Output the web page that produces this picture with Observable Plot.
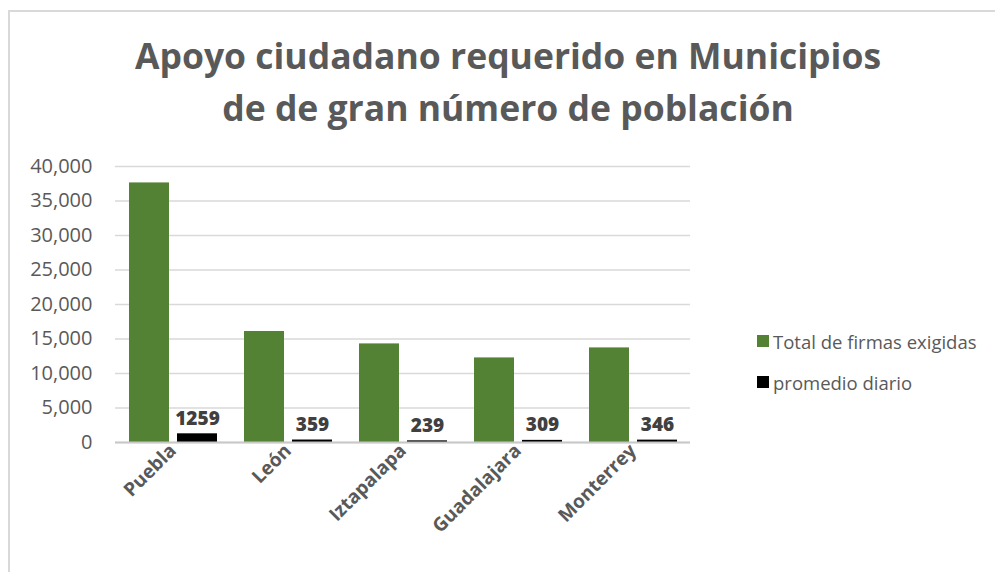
<!DOCTYPE html>
<html>
<head>
<meta charset="utf-8">
<script src="https://cdn.jsdelivr.net/npm/d3@7"></script>
<script src="https://cdn.jsdelivr.net/npm/@observablehq/plot@0.6"></script>
<style>
  html, body { margin: 0; padding: 0; background: #fff; }
  body { width: 995px; height: 572px; position: relative; overflow: hidden; font-family: "Open Sans", sans-serif; }
  #frame { position: absolute; left: 8px; top: 10px; right: -5px; bottom: -5px; border-top: 2px solid #d9d9d9; border-left: 2px solid #d9d9d9; }
  #title { position: absolute; left: 20px; width: 976px; top: 29px; text-align: center; font-weight: 700; font-size: 35.5px; line-height: 52px; color: #595959; }
  #chart { position: absolute; left: 0; top: 140px; }
  #legend { position: absolute; left: 757px; top: 327px; color: #595959; font-size: 18.5px; }
  .item { display: flex; align-items: center; height: 28px; margin-bottom: 13px; }
  .sw { width: 12px; height: 12px; margin-right: 4px; }
</style>
</head>
<body>
<div id="frame"></div>
<div id="title">Apoyo ciudadano requerido en Municipios<br>de de gran número de población</div>
<div id="chart"></div>
<div id="legend"></div>
<script>
const categories = ["Puebla", "León", "Iztapalapa", "Guadalajara", "Monterrey"];
const totalFirmas = [37620, 16090, 14290, 12260, 13710];
const promedioDiario = [1259, 359, 239, 309, 346];
const seriesNames = ["Total de firmas exigidas", "promedio diario"];
const seriesColors = ["#548235", "#000000"];
const yTicks = [0, 5000, 10000, 15000, 20000, 25000, 30000, 35000, 40000];

const rows = categories.flatMap((c, i) => [
  {cat: c, series: seriesNames[0], value: totalFirmas[i]},
  {cat: c, series: seriesNames[1], value: promedioDiario[i]}
]);

const chart = Plot.plot({
  width: 700,
  height: 432,
  marginTop: 26,
  marginBottom: 130,
  marginLeft: 115,
  marginRight: 10,
  style: {fontFamily: "'Open Sans', sans-serif", fontSize: "20px", color: "#595959", background: "transparent"},
  fx: {domain: categories, padding: 0, label: null, axis: null},
  x: {domain: seriesNames, paddingInner: 0.167, paddingOuter: 0.275, axis: null},
  y: {domain: [0, 40000], label: null},
  color: {domain: seriesNames, range: seriesColors},
  marks: [
    Plot.gridY(yTicks, {stroke: "#d9d9d9", strokeOpacity: 1, strokeWidth: 1.5}),
    Plot.axisY(yTicks, {tickSize: 0, tickPadding: 23, tickFormat: d3.format(","), label: null, fontSize: 20}),
    Plot.axisFx({anchor: "bottom", tickRotate: -45, tickSize: 0, tickPadding: 5, label: null, fontSize: 19, fontWeight: "bold"}),
    Plot.barY(rows, {fx: "cat", x: "series", y: "value", fill: "series"}),
    Plot.ruleY([0], {stroke: "#c8c8c8", strokeWidth: 2}),
    Plot.text(rows.filter(d => d.series === seriesNames[1]), {
      fx: "cat", x: "series", y: "value", text: d => String(d.value),
      dy: -9, lineAnchor: "bottom", fontSize: 19, fontWeight: 800, fill: "#404040"
    })
  ]
});
document.getElementById("chart").appendChild(chart);

const legend = document.getElementById("legend");
seriesNames.forEach((name, i) => {
  const item = document.createElement("div");
  item.className = "item";
  const sw = document.createElement("span");
  sw.className = "sw";
  sw.style.background = seriesColors[i];
  const label = document.createElement("span");
  label.textContent = name;
  item.appendChild(sw);
  item.appendChild(label);
  legend.appendChild(item);
});
</script>
</body>
</html>
